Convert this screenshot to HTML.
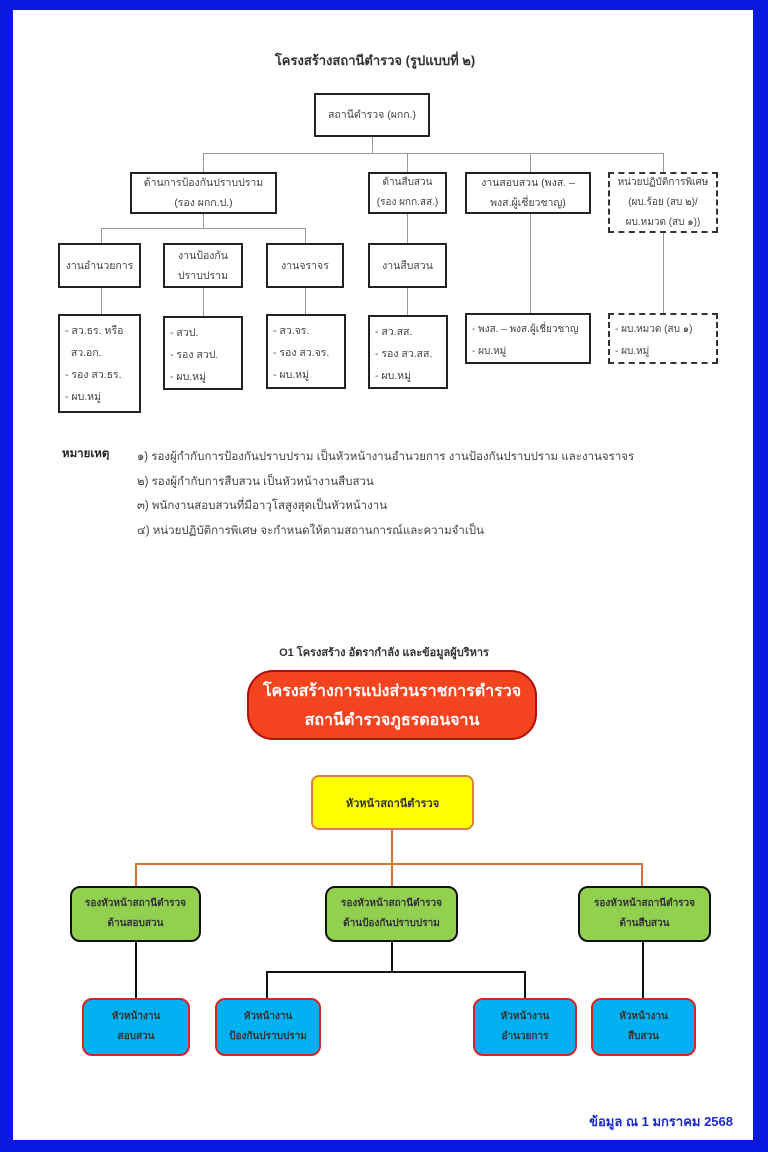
<!DOCTYPE html>
<html><head><meta charset="utf-8"><style>
*{margin:0;padding:0;box-sizing:border-box}
body{width:768px;height:1152px;background:#0a18e0;position:relative;overflow:hidden;font-family:"Liberation Sans","DejaVu Sans","Noto Sans CJK SC",sans-serif;color:#333}
#w{position:absolute;left:13px;top:10px;width:740px;height:1130px;background:#fff}
.a{position:absolute}
.b{position:absolute;border:2px solid #222;background:#fff;font-size:10.5px;color:#444;display:flex;align-items:center;justify-content:center;text-align:center;line-height:20px;white-space:nowrap}
.d{border:2px dashed #333}
.l{position:absolute;text-align:left;justify-content:flex-start;padding-left:5px;line-height:22px;display:block;padding-top:4px}
.h{position:absolute;background:#999;height:1px}
.v{position:absolute;background:#999;width:1px}
.g{position:absolute;border:2px solid #111;background:#92d050;border-radius:10px;font-size:10px;font-weight:bold;color:#333;display:flex;align-items:center;justify-content:center;text-align:center;line-height:20px}
.c{position:absolute;border:2px solid #d22;background:#00b0f0;border-radius:10px;font-size:10px;font-weight:bold;color:#333;display:flex;align-items:center;justify-content:center;text-align:center;line-height:20px}
.n{position:absolute;font-size:11.5px;color:#444}
</style></head><body>
<div id="w"></div>
<div class="a" style="left:0;width:750px;top:50px;text-align:center;font-size:13px;font-weight:bold;color:#333">โครงสร้างสถานีตำรวจ (รูปแบบที่ ๒)</div>
<div class="b" style="left:314px;top:93px;width:116px;height:44px">สถานีตำรวจ (ผกก.)</div>
<div class="v" style="left:372px;top:137px;height:16px"></div>
<div class="h" style="left:203px;top:153px;width:460px"></div>
<div class="v" style="left:203px;top:153px;height:19px"></div>
<div class="v" style="left:407px;top:153px;height:19px"></div>
<div class="v" style="left:530px;top:153px;height:19px"></div>
<div class="v" style="left:663px;top:153px;height:19px"></div>
<div class="b" style="left:130px;top:172px;width:147px;height:42px">ด้านการป้องกันปราบปราม<br>(รอง ผกก.ป.)</div>
<div class="b" style="left:368px;top:172px;width:79px;height:42px;font-size:10px">ด้านสืบสวน<br>(รอง ผกก.สส.)</div>
<div class="b" style="left:465px;top:172px;width:126px;height:42px">งานสอบสวน (พงส. –<br>พงส.ผู้เชี่ยวชาญ)</div>
<div class="b d" style="left:608px;top:172px;width:110px;height:61px;font-size:10px">หน่วยปฏิบัติการพิเศษ<br>(ผบ.ร้อย (สบ ๒)/<br>ผบ.หมวด (สบ ๑))</div>
<div class="v" style="left:203px;top:214px;height:14px"></div>
<div class="h" style="left:101px;top:228px;width:204px"></div>
<div class="v" style="left:101px;top:228px;height:15px"></div>
<div class="v" style="left:305px;top:228px;height:15px"></div>
<div class="v" style="left:407px;top:214px;height:29px"></div>
<div class="b" style="left:58px;top:243px;width:83px;height:45px">งานอำนวยการ</div>
<div class="b" style="left:163px;top:243px;width:80px;height:45px">งานป้องกัน<br>ปราบปราม</div>
<div class="b" style="left:266px;top:243px;width:78px;height:45px">งานจราจร</div>
<div class="b" style="left:368px;top:243px;width:79px;height:45px">งานสืบสวน</div>
<div class="v" style="left:101px;top:288px;height:26px"></div>
<div class="v" style="left:203px;top:288px;height:28px"></div>
<div class="v" style="left:305px;top:288px;height:26px"></div>
<div class="v" style="left:407px;top:288px;height:27px"></div>
<div class="v" style="left:530px;top:214px;height:99px"></div>
<div class="v" style="left:663px;top:233px;height:80px"></div>
<div class="b l" style="left:58px;top:314px;width:83px;height:99px">- สว.ธร. หรือ<br>&nbsp;&nbsp;สว.อก.<br>- รอง สว.ธร.<br>- ผบ.หมู่</div>
<div class="b l" style="left:163px;top:316px;width:80px;height:74px">- สวป.<br>- รอง สวป.<br>- ผบ.หมู่</div>
<div class="b l" style="left:266px;top:314px;width:80px;height:75px">- สว.จร.<br>- รอง สว.จร.<br>- ผบ.หมู่</div>
<div class="b l" style="left:368px;top:315px;width:80px;height:74px">- สว.สส.<br>- รอง สว.สส.<br>- ผบ.หมู่</div>
<div class="b l" style="left:465px;top:313px;width:126px;height:51px;font-size:10px">- พงส. – พงส.ผู้เชี่ยวชาญ<br>- ผบ.หมู่</div>
<div class="b l d" style="left:608px;top:313px;width:110px;height:51px;font-size:10px">- ผบ.หมวด (สบ ๑)<br>- ผบ.หมู่</div>
<div class="n" style="left:62px;top:445px;font-weight:bold;color:#222">หมายเหตุ</div>
<div class="n" style="left:137px;top:445px;line-height:24.5px">๑) รองผู้กำกับการป้องกันปราบปราม เป็นหัวหน้างานอำนวยการ งานป้องกันปราบปราม และงานจราจร<br>๒) รองผู้กำกับการสืบสวน เป็นหัวหน้างานสืบสวน<br>๓) พนักงานสอบสวนที่มีอาวุโสสูงสุดเป็นหัวหน้างาน<br>๔) หน่วยปฏิบัติการพิเศษ จะกำหนดให้ตามสถานการณ์และความจำเป็น</div>

<div class="a" style="left:0;width:768px;top:643px;text-align:center;font-size:11px;font-weight:bold;color:#333">O1 โครงสร้าง อัตรากำลัง และข้อมูลผู้บริหาร</div>
<div class="a" style="left:247px;top:670px;width:290px;height:70px;background:#f4441f;border:2px solid #b01010;border-radius:26px;color:#fff;font-weight:bold;font-size:16px;text-align:center;line-height:29px;padding-top:5px">โครงสร้างการแบ่งส่วนราชการตำรวจ<br>สถานีตำรวจภูธรดอนจาน</div>
<div class="a" style="left:311px;top:775px;width:163px;height:55px;background:#ffff00;border:2px solid #e08040;border-radius:8px;font-size:11px;font-weight:bold;display:flex;align-items:center;justify-content:center">หัวหน้าสถานีตำรวจ</div>
<div class="a" style="left:391px;top:830px;width:2px;height:56px;background:#e07030"></div>
<div class="a" style="left:135px;top:863px;width:508px;height:2px;background:#e07030"></div>
<div class="a" style="left:135px;top:863px;width:2px;height:23px;background:#e07030"></div>
<div class="a" style="left:641px;top:863px;width:2px;height:23px;background:#e07030"></div>
<div class="g" style="left:70px;top:886px;width:131px;height:56px">รองหัวหน้าสถานีตำรวจ<br>ด้านสอบสวน</div>
<div class="g" style="left:325px;top:886px;width:133px;height:56px">รองหัวหน้าสถานีตำรวจ<br>ด้านป้องกันปราบปราม</div>
<div class="g" style="left:578px;top:886px;width:133px;height:56px">รองหัวหน้าสถานีตำรวจ<br>ด้านสืบสวน</div>
<div class="a" style="left:135px;top:942px;width:2px;height:56px;background:#111"></div>
<div class="a" style="left:391px;top:942px;width:2px;height:30px;background:#111"></div>
<div class="a" style="left:266px;top:971px;width:260px;height:2px;background:#111"></div>
<div class="a" style="left:266px;top:971px;width:2px;height:27px;background:#111"></div>
<div class="a" style="left:524px;top:971px;width:2px;height:27px;background:#111"></div>
<div class="a" style="left:642px;top:942px;width:2px;height:56px;background:#111"></div>
<div class="c" style="left:82px;top:998px;width:108px;height:58px">หัวหน้างาน<br>สอบสวน</div>
<div class="c" style="left:215px;top:998px;width:106px;height:58px">หัวหน้างาน<br>ป้องกันปราบปราม</div>
<div class="c" style="left:473px;top:998px;width:104px;height:58px">หัวหน้างาน<br>อำนวยการ</div>
<div class="c" style="left:591px;top:998px;width:105px;height:58px">หัวหน้างาน<br>สืบสวน</div>
<div class="a" style="left:560px;top:1111px;width:173px;text-align:right;font-size:13px;font-weight:bold;color:#1a2acc">ข้อมูล ณ 1 มกราคม 2568</div>
</body></html>
